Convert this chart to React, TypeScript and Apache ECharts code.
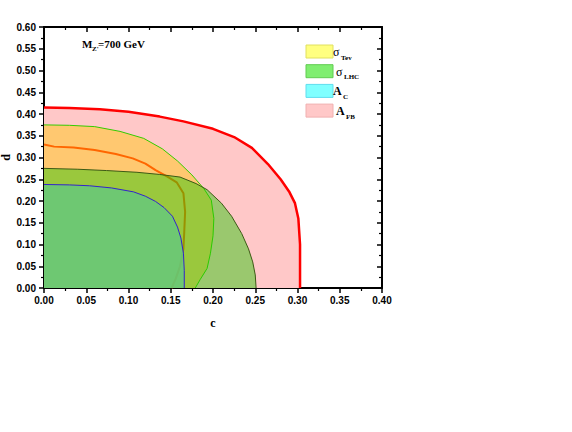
import React, { useEffect, useRef } from "react";
import * as echarts from "echarts";

// c (x) and d (y) values
const afbBoundary: [number, number][] = [
  [0, 0.415], [0.03, 0.414], [0.066, 0.411], [0.1, 0.405], [0.137, 0.394],
  [0.165, 0.383], [0.2, 0.366], [0.225, 0.347], [0.246, 0.322], [0.265, 0.285],
  [0.28, 0.25], [0.29, 0.222], [0.297, 0.195], [0.301, 0.16], [0.303, 0.1], [0.303, 0],
];
const lhcBoundary: [number, number][] = [
  [0, 0.375], [0.03, 0.374], [0.06, 0.371], [0.09, 0.36], [0.118, 0.344],
  [0.14, 0.32], [0.158, 0.292], [0.175, 0.26], [0.189, 0.229], [0.198, 0.202],
  [0.201, 0.16], [0.2, 0.12], [0.197, 0.08], [0.193, 0.045], [0.185, 0.02], [0.179, 0],
];
const tevBoundary: [number, number][] = [
  [0, 0.33], [0.012, 0.325], [0.035, 0.323], [0.06, 0.317], [0.085, 0.308],
  [0.105, 0.298], [0.12, 0.286], [0.132, 0.271], [0.146, 0.256], [0.157, 0.243],
  [0.165, 0.218], [0.167, 0.175], [0.166, 0.13], [0.165, 0.09], [0.161, 0.05],
  [0.156, 0.022], [0.151, 0],
];
const combinedBoundary: [number, number][] = [
  [0, 0.275], [0.04, 0.273], [0.074, 0.27], [0.11, 0.266], [0.137, 0.261],
  [0.161, 0.255], [0.18, 0.24], [0.193, 0.226], [0.21, 0.195], [0.222, 0.165],
  [0.234, 0.125], [0.242, 0.09], [0.247, 0.06], [0.25, 0.03], [0.251, 0],
];
const acBoundary: [number, number][] = [
  [0, 0.238], [0.03, 0.237], [0.054, 0.235], [0.08, 0.23], [0.106, 0.221],
  [0.12, 0.211], [0.132, 0.199], [0.142, 0.185], [0.152, 0.165], [0.158, 0.14],
  [0.162, 0.115], [0.165, 0.08], [0.166, 0.04], [0.166, 0],
];

const legendItems = [
  { main: "σ", sub: "Tev", color: "#FFFF80", border: "#E0E060" },
  { main: "σ", sub: "LHC", color: "#80EE70", border: "#60CC50" },
  { main: "A", sub: "C", color: "#80FFFF", border: "#60DDEE" },
  { main: "A", sub: "FB", color: "#FFC8C8", border: "#F0B0B0" },
];

const serif = "'Liberation Serif', 'DejaVu Serif', serif";
const sans = "'Liberation Sans', Arial, sans-serif";

export default function App() {
  const ref = useRef<HTMLDivElement>(null);
  useEffect(() => {
    const chart = echarts.init(ref.current!, null, { renderer: "svg" });
    const baseAxis = {
      type: "value" as const,
      splitLine: { show: false },
      nameMoveOverlap: false,
      axisLine: { show: true, onZero: false, lineStyle: { color: "#000", width: 2 } },
      minorTick: { show: true, splitNumber: 2, length: 3, lineStyle: { color: "#000", width: 1.2 } },
    };
    const lineSeries = (
      name: string,
      data: [number, number][],
      lineColor: string,
      lineWidth: number,
      fill: string | null,
      z: number
    ) => ({
      name,
      type: "line" as const,
      data,
      z,
      showSymbol: false,
      symbol: "none",
      smooth: false,
      lineStyle: { color: lineColor, width: lineWidth },
      areaStyle: fill ? { color: fill, opacity: 1 } : undefined,
      emphasis: { disabled: true },
    });

    const graphics: any[] = [];
    legendItems.forEach((it, i) => {
      const y = 45 + i * 19.7;
      graphics.push({
        type: "rect",
        shape: { x: 306, y, width: 27, height: 13 },
        style: { fill: it.color, stroke: it.border, lineWidth: 1 },
      });
      const mx = i === 1 || i === 3 ? 336 : 333;
      graphics.push({
        type: "text",
        x: mx,
        y: y + 1,
        style: {
          text: it.main,
          font: `${it.main === "A" ? "bold " : ""}12px ${serif}`,
          fill: "#000",
        },
      });
      graphics.push({
        type: "text",
        x: mx + (it.main === "A" ? 10 : 8),
        y: y + 9,
        style: { text: it.sub, font: `bold 7px ${serif}`, fill: "#000" },
      });
    });
    graphics.push(
      { type: "text", x: 82, y: 38, style: { text: "M", font: `bold 11px ${serif}`, fill: "#000" } },
      { type: "text", x: 92, y: 45, style: { text: "Z'", font: `bold 7px ${serif}`, fill: "#000" } },
      { type: "text", x: 98, y: 38, style: { text: "=700 GeV", font: `bold 11px ${serif}`, fill: "#000" } }
    );

    chart.setOption({
      animation: false,
      backgroundColor: "#fff",
      grid: {
        left: 44,
        top: 27,
        width: 338,
        height: 261,
        containLabel: false,
        outerBoundsMode: "none",
      },
      xAxis: [
        {
          ...baseAxis,
          min: 0,
          max: 0.4,
          interval: 0.05,
          position: "bottom",
          name: "c",
          nameLocation: "middle",
          nameGap: 29,
          nameTextStyle: { fontFamily: serif, fontSize: 12, fontWeight: "bold", color: "#000" },
          axisTick: { show: true, inside: false, length: 5, lineStyle: { color: "#000", width: 1.5 } },
          axisLabel: {
            formatter: (v: number) => v.toFixed(2),
            fontFamily: sans,
            fontWeight: "bold",
            fontSize: 10,
            color: "#000",
            margin: 7,
          },
        },
        {
          ...baseAxis,
          min: 0,
          max: 0.4,
          interval: 0.05,
          position: "top",
          axisTick: { show: true, inside: true, length: 5, lineStyle: { color: "#000", width: 1.5 } },
          axisLabel: { show: false },
        },
      ],
      yAxis: [
        {
          ...baseAxis,
          min: 0,
          max: 0.6,
          interval: 0.05,
          position: "left",
          name: "d",
          nameLocation: "middle",
          nameGap: 32,
          nameTextStyle: { fontFamily: serif, fontSize: 12, fontWeight: "bold", color: "#000" },
          axisTick: { show: true, inside: false, length: 5, lineStyle: { color: "#000", width: 1.5 } },
          axisLabel: {
            formatter: (v: number) => v.toFixed(2),
            fontFamily: sans,
            fontWeight: "bold",
            fontSize: 10,
            color: "#000",
            margin: 8,
          },
        },
        {
          ...baseAxis,
          min: 0,
          max: 0.6,
          interval: 0.05,
          position: "right",
          axisTick: { show: true, inside: true, length: 5, lineStyle: { color: "#000", width: 1.5 } },
          axisLabel: { show: false },
        },
      ],
      series: [
        lineSeries("A_FB", afbBoundary, "#FF0000", 2.5, "#FFC8C8", 2),
        lineSeries("σ_LHC", lhcBoundary, "#33CC00", 1, "#FFC870", 3),
        lineSeries("σ_Tev", tevBoundary, "#FF6600", 2, null, 4),
        lineSeries("combined", combinedBoundary, "#3C5A14", 1, "rgba(30,200,0,0.45)", 5),
        lineSeries("A_C", acBoundary, "#3322CC", 1, "rgba(102,200,123,0.85)", 6),
      ],
      graphic: graphics,
    });
    return () => chart.dispose();
  }, []);
  return (
    <div
      ref={ref}
      style={{ position: "absolute", left: 0, top: 0, width: 572, height: 432, background: "#fff" }}
    />
  );
}
